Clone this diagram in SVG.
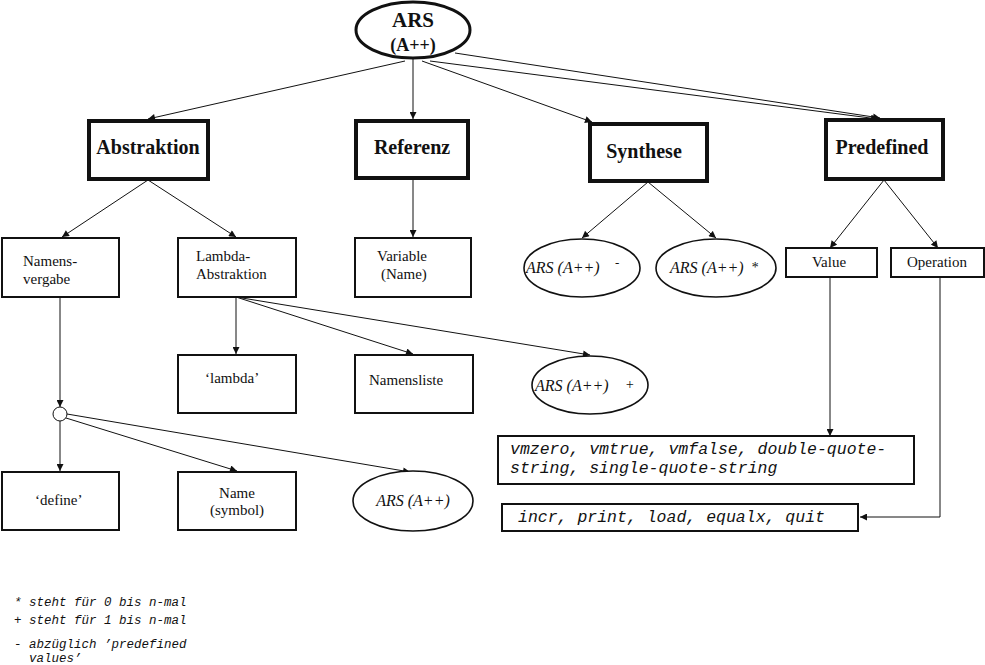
<svg xmlns="http://www.w3.org/2000/svg" width="985" height="665" viewBox="0 0 985 665">
<defs>
<marker id="ah" viewBox="0 0 10 10" refX="10" refY="5" markerWidth="9" markerHeight="7" markerUnits="userSpaceOnUse" orient="auto">
<path d="M0,0 L10,5 L0,10 z" fill="#111"/>
</marker>
<style>
.thick{fill:#fff;stroke:#111;stroke-width:4}
.box{fill:#fff;stroke:#111;stroke-width:2}
.ell{fill:#fff;stroke:#111;stroke-width:1.6}
.ellb{fill:#fff;stroke:#111;stroke-width:3}
.bl{font-family:"Liberation Serif","Times New Roman",serif;font-weight:bold;font-size:20px;fill:#111;text-anchor:middle}
.sr{font-family:"Liberation Serif","Times New Roman",serif;font-size:15px;fill:#111}
.it{font-family:"Liberation Serif","Times New Roman",serif;font-style:italic;font-size:16px;fill:#111}
.mono{font-family:"Liberation Mono","DejaVu Sans Mono",monospace;font-style:italic;font-size:16.5px;fill:#111}
.leg{font-family:"Liberation Mono","DejaVu Sans Mono",monospace;font-style:italic;font-size:12.5px;fill:#111}
.c{fill:none;stroke:#111;stroke-width:1;marker-end:url(#ah)}
</style>
</defs>
<rect width="985" height="665" fill="#fff"/>
<g id="connectors">
<line class="c" x1="405" y1="61" x2="148" y2="119"/>
<line class="c" x1="413" y1="59" x2="413" y2="119"/>
<line class="c" x1="422" y1="61" x2="592" y2="122"/>
<line class="c" x1="430" y1="61" x2="878" y2="119"/>
<line class="c" x1="455" y1="53" x2="880" y2="118"/>
<line class="c" x1="148" y1="180" x2="62" y2="237"/>
<line class="c" x1="148" y1="180" x2="236" y2="237"/>
<line class="c" x1="413" y1="180" x2="413" y2="237"/>
<line class="c" x1="648" y1="182" x2="582" y2="238"/>
<line class="c" x1="648" y1="182" x2="716" y2="238"/>
<line class="c" x1="884" y1="180" x2="830" y2="248"/>
<line class="c" x1="884" y1="180" x2="938" y2="248"/>
<line class="c" x1="236" y1="297" x2="236" y2="354"/>
<line class="c" x1="236" y1="297" x2="413" y2="354"/>
<line class="c" x1="236" y1="297" x2="590" y2="355"/>
<line class="c" x1="60" y1="297" x2="60" y2="407"/>
<line class="c" x1="60" y1="421" x2="60" y2="471"/>
<line class="c" x1="66" y1="418" x2="237" y2="471"/>
<line class="c" x1="67" y1="414" x2="410" y2="472"/>
<line class="c" x1="830" y1="277" x2="830" y2="436"/>
<polyline class="c" points="940,277 940,517 860,517"/>
</g>
<g id="n_ars">
<ellipse class="ellb" cx="413" cy="30" rx="57" ry="28"/>
<text class="bl" x="413" y="27" style="font-size:21px">ARS</text>
<text class="bl" x="413" y="51" style="font-size:18px">(A++)</text>
</g>
<g id="n_abstraktion">
<rect class="thick" x="89" y="121" width="119" height="58"/>
<text class="bl" x="148" y="154">Abstraktion</text>
</g>
<g id="n_referenz">
<rect class="thick" x="356" y="121" width="112" height="57"/>
<text class="bl" x="412" y="154">Referenz</text>
</g>
<g id="n_synthese">
<rect class="thick" x="590" y="124" width="117" height="57"/>
<text class="bl" x="644" y="158">Synthese</text>
</g>
<g id="n_predefined">
<rect class="thick" x="826" y="120" width="117" height="59"/>
<text class="bl" x="882" y="154">Predefined</text>
</g>
<g id="n_namensvergabe">
<rect class="box" x="2" y="238" width="117" height="59"/>
<text class="sr" x="23" y="266">Namens-</text>
<text class="sr" x="23" y="284">vergabe</text>
</g>
<g id="n_lambdaabs">
<rect class="box" x="178" y="238" width="118" height="59"/>
<text class="sr" x="196" y="261">Lambda-</text>
<text class="sr" x="196" y="279">Abstraktion</text>
</g>
<g id="n_variable">
<rect class="box" x="355" y="238" width="116" height="59"/>
<text class="sr" x="377" y="261">Variable</text>
<text class="sr" x="381" y="279">(Name)</text>
</g>
<g id="n_ars_minus">
<ellipse class="ell" cx="582" cy="268" rx="58" ry="29"/>
<text class="it" x="526" y="273">ARS (A++)</text>
<text class="it" x="615" y="267" style="font-size:13px">-</text>
</g>
<g id="n_ars_star">
<ellipse class="ell" cx="716" cy="268" rx="60" ry="29"/>
<text class="it" x="670" y="273">ARS (A++)</text>
<text class="it" x="751" y="272" style="font-size:14px">*</text>
</g>
<g id="n_value">
<rect class="box" x="786" y="248" width="91" height="29"/>
<text class="sr" x="829" y="267" text-anchor="middle">Value</text>
</g>
<g id="n_operation">
<rect class="box" x="891" y="248" width="93" height="29"/>
<text class="sr" x="937" y="267" text-anchor="middle">Operation</text>
</g>
<g id="n_lambda">
<rect class="box" x="178" y="355" width="118" height="58"/>
<text class="sr" x="205" y="383">‘lambda’</text>
</g>
<g id="n_namensliste">
<rect class="box" x="355" y="355" width="118" height="58"/>
<text class="sr" x="369" y="385">Namensliste</text>
</g>
<g id="n_ars_plus">
<ellipse class="ell" cx="590" cy="385" rx="58" ry="29"/>
<text class="it" x="535" y="391">ARS (A++)</text>
<text class="it" x="625" y="389" style="font-size:14px">+</text>
</g>
<g id="n_circle">
<circle cx="60" cy="414" r="7" fill="#fff" stroke="#111" stroke-width="1"/>
</g>
<g id="n_define">
<rect class="box" x="2" y="472" width="117" height="58"/>
<text class="sr" x="35" y="505">‘define’</text>
</g>
<g id="n_name">
<rect class="box" x="178" y="472" width="118" height="58"/>
<text class="sr" x="237" y="498" text-anchor="middle">Name</text>
<text class="sr" x="237" y="515" text-anchor="middle">(symbol)</text>
</g>
<g id="n_ars_bottom">
<ellipse class="ell" cx="413" cy="501" rx="60" ry="30"/>
<text class="it" x="413" y="506" text-anchor="middle">ARS (A++)</text>
</g>
<g id="n_values">
<rect class="box" x="498" y="436" width="416" height="48"/>
<text class="mono" x="510" y="454">vmzero, vmtrue, vmfalse, double-quote-</text>
<text class="mono" x="510" y="473">string, single-quote-string</text>
</g>
<g id="n_ops">
<rect class="box" x="502" y="504" width="356" height="27"/>
<text class="mono" x="518" y="522">incr, print, load, equalx, quit</text>
</g>
<g id="legend">
<text class="leg" x="14" y="606">* steht für 0 bis n-mal</text>
<text class="leg" x="14" y="624">+ steht für 1 bis n-mal</text>
<text class="leg" x="14" y="648">- abzüglich ’predefined</text>
<text class="leg" x="29" y="662">values’</text>
</g>
</svg>
